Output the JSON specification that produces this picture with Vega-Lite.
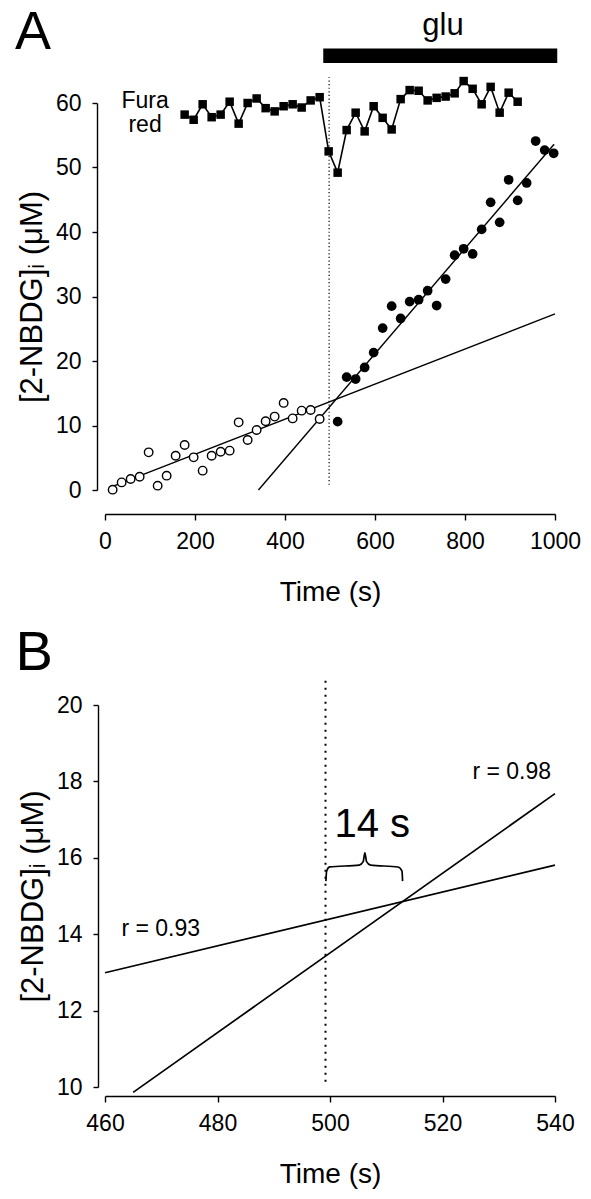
{
  "$schema": "https://vega.github.io/schema/vega-lite/v6.json",
  "padding": {"left": 14, "top": 6, "right": 5, "bottom": 5},
  "background": "white",
  "bounds": "flush",
  "spacing": 215,
  "config": {
    "font": "Liberation Sans",
    "view": {"stroke": null},
    "axis": {
      "domainColor": "black", "tickColor": "black", "labelColor": "black", "titleColor": "black",
      "domainWidth": 1.4, "tickWidth": 1.4, "grid": false,
      "labelFont": "Liberation Sans", "titleFont": "Liberation Sans", "titleFontWeight": "normal",
      "labelFontSize": 23, "titleFontSize": 28, "labelOverlap": false, "labelFlush": false, "format": "d"
    }
  },
  "datasets": {
    "furaA": [
      {"t":177,"v":58.2},{"t":197,"v":57.4},{"t":217,"v":59.8},{"t":237,"v":57.8},{"t":257,"v":58.2},
      {"t":277,"v":60.2},{"t":297,"v":56.8},{"t":317,"v":60.0},{"t":337,"v":60.7},{"t":357,"v":59.2},
      {"t":377,"v":58.7},{"t":397,"v":59.5},{"t":417,"v":59.8},{"t":437,"v":59.3},{"t":457,"v":60.4},
      {"t":477,"v":60.9},{"t":497,"v":52.5},{"t":517,"v":49.2},{"t":537,"v":55.8},{"t":557,"v":58.5},
      {"t":577,"v":55.6},{"t":597,"v":59.5},{"t":617,"v":57.7},{"t":637,"v":55.9},{"t":657,"v":60.6},
      {"t":677,"v":62.0},{"t":697,"v":61.9},{"t":717,"v":60.4},{"t":737,"v":60.8},{"t":757,"v":61.0},
      {"t":777,"v":61.5},{"t":797,"v":63.4},{"t":817,"v":62.2},{"t":837,"v":59.8},{"t":857,"v":62.5},
      {"t":877,"v":58.5},{"t":897,"v":61.6},{"t":917,"v":60.2}
    ],
    "openA": [
      {"t":17,"v":0.05},{"t":37,"v":1.18},{"t":57,"v":1.71},{"t":77,"v":2.06},{"t":97,"v":5.84},
      {"t":117,"v":0.67},{"t":137,"v":2.22},{"t":157,"v":5.32},{"t":177,"v":6.98},{"t":197,"v":5.06},
      {"t":217,"v":3.0},{"t":237,"v":5.32},{"t":257,"v":5.94},{"t":277,"v":6.1},{"t":297,"v":10.49},
      {"t":317,"v":7.76},{"t":337,"v":9.31},{"t":357,"v":10.65},{"t":377,"v":11.38},{"t":397,"v":13.5},
      {"t":417,"v":11.1},{"t":437,"v":12.3},{"t":457,"v":12.4},{"t":477,"v":11.0}
    ],
    "filledA": [
      {"t":517,"v":10.6},{"t":537,"v":17.5},{"t":557,"v":17.2},{"t":577,"v":19.0},{"t":597,"v":21.3},
      {"t":617,"v":25.1},{"t":637,"v":28.5},{"t":657,"v":26.6},{"t":677,"v":29.2},{"t":697,"v":29.5},
      {"t":717,"v":30.9},{"t":737,"v":28.6},{"t":757,"v":32.7},{"t":777,"v":36.4},{"t":797,"v":37.4},
      {"t":817,"v":36.6},{"t":837,"v":40.4},{"t":857,"v":44.6},{"t":877,"v":41.5},{"t":897,"v":48.1},
      {"t":917,"v":44.9},{"t":937,"v":47.6},{"t":957,"v":54.1},{"t":977,"v":52.7},{"t":997,"v":52.2}
    ],
    "fitA": [
      {"fit":"pre","t":17,"v":0.55},{"fit":"pre","t":1000,"v":27.3},
      {"fit":"post","t":341,"v":0},{"fit":"post","t":998,"v":53.6}
    ],
    "gluA": [{"t":485,"t2":1005,"v":66.2,"v2":68.45}],
    "dotA": [{"t":498,"v":0.8,"v2":64}],
    "labelsA": [
      {"key":"panel","text":"A","t":-160,"v":68.33},
      {"key":"glu","text":"glu","t":751,"v":70.5},
      {"key":"fura","text":"Fura\nred","t":89,"v":59.3}
    ],
    "fitB": [
      {"fit":"r93","t":460,"v":12.99},{"fit":"r93","t":540,"v":15.81},
      {"fit":"r98","t":465,"v":9.86},{"fit":"r98","t":540,"v":17.68}
    ],
    "dotB": [{"t":499.2,"v":10.14,"v2":20.65}],
    "braceB": [
      {"i":1,"t":499.27,"v":15.39},{"i":2,"t":499.4,"v":15.65},{"i":3,"t":499.93,"v":15.76},
      {"i":4,"t":505.2,"v":15.81},{"i":5,"t":505.9,"v":15.9},{"i":6,"t":506.2,"v":16.13},
      {"i":7,"t":506.5,"v":15.9},{"i":8,"t":507.2,"v":15.81},{"i":9,"t":512.1,"v":15.76},
      {"i":10,"t":512.8,"v":15.65},{"i":11,"t":512.9,"v":15.39}
    ],
    "labelsB": [
      {"key":"panel","text":"B","t":447.4,"v":20.92},
      {"key":"gap","text":"14 s","t":507.5,"v":16.54},
      {"key":"r","text":"r = 0.98","t":532.3,"v":18.06},
      {"key":"r","text":"r = 0.93","t":469.9,"v":13.94}
    ]
  },
  "vconcat": [
    {
      "width": 450,
      "height": 387,
      "encoding": {
        "x": {"field": "t", "type": "quantitative",
          "scale": {"domain": [0, 1000], "nice": false, "zero": false},
          "axis": {"title": "Time (s)", "offset": 24, "tickSize": 6, "labelPadding": 10, "titlePadding": 25,
                   "values": [0, 200, 400, 600, 800, 1000]}},
        "y": {"field": "v", "type": "quantitative",
          "scale": {"domain": [0, 60], "nice": false, "zero": false},
          "axis": {"title": "[2-NBDG]ᵢ (μM)", "offset": 8, "tickSize": 5, "labelPadding": 11, "titlePadding": 7,
                   "titleFontSize": 31, "values": [0, 10, 20, 30, 40, 50, 60]}}
      },
      "layer": [
        {"data": {"name": "gluA"}, "mark": {"type": "rect", "color": "black"},
         "encoding": {"x2": {"field": "t2"}, "y2": {"field": "v2"}}},
        {"data": {"name": "dotA"}, "mark": {"type": "rule", "color": "black", "strokeWidth": 1.2, "strokeDash": [1.2, 2.4]},
         "encoding": {"y2": {"field": "v2"}}},
        {"data": {"name": "fitA"}, "mark": {"type": "line", "color": "black", "strokeWidth": 1.4},
         "encoding": {"detail": {"field": "fit"}}},
        {"data": {"name": "furaA"}, "mark": {"type": "line", "color": "black", "strokeWidth": 1.6}},
        {"data": {"name": "furaA"}, "mark": {"type": "point", "shape": "square", "filled": true, "color": "black", "opacity": 1, "size": 72}},
        {"data": {"name": "openA"}, "mark": {"type": "point", "shape": "circle", "filled": true, "fill": "white", "stroke": "black", "strokeWidth": 1.4, "opacity": 1, "size": 72}},
        {"data": {"name": "filledA"}, "mark": {"type": "point", "shape": "circle", "filled": true, "color": "black", "opacity": 1, "size": 95}},
        {"data": {"name": "labelsA"}, "transform": [{"filter": "datum.key === 'panel'"}],
         "mark": {"type": "text", "fontSize": 54, "align": "center", "baseline": "alphabetic", "color": "black"},
         "encoding": {"text": {"field": "text"}}},
        {"data": {"name": "labelsA"}, "transform": [{"filter": "datum.key === 'glu'"}],
         "mark": {"type": "text", "fontSize": 31, "align": "center", "baseline": "alphabetic", "color": "black"},
         "encoding": {"text": {"field": "text"}}},
        {"data": {"name": "labelsA"}, "transform": [{"filter": "datum.key === 'fura'"}],
         "mark": {"type": "text", "fontSize": 23, "align": "center", "baseline": "alphabetic", "lineBreak": "\n", "lineHeight": 24, "color": "black"},
         "encoding": {"text": {"field": "text"}}}
      ]
    },
    {
      "width": 450,
      "height": 382,
      "encoding": {
        "x": {"field": "t", "type": "quantitative",
          "scale": {"domain": [460, 540], "nice": false, "zero": false},
          "axis": {"title": "Time (s)", "offset": 9, "tickSize": 6, "labelPadding": 10, "titlePadding": 25,
                   "values": [460, 480, 500, 520, 540]}},
        "y": {"field": "v", "type": "quantitative",
          "scale": {"domain": [10, 20], "nice": false, "zero": false},
          "axis": {"title": "[2-NBDG]ᵢ (μM)", "offset": 7, "tickSize": 5, "labelPadding": 11, "titlePadding": 7,
                   "titleFontSize": 31, "values": [10, 12, 14, 16, 18, 20]}}
      },
      "layer": [
        {"data": {"name": "dotB"}, "mark": {"type": "rule", "color": "black", "strokeWidth": 2, "strokeDash": [2, 5]},
         "encoding": {"y2": {"field": "v2"}}},
        {"data": {"name": "fitB"}, "mark": {"type": "line", "color": "black", "strokeWidth": 1.7},
         "encoding": {"detail": {"field": "fit"}}},
        {"data": {"name": "braceB"}, "mark": {"type": "line", "color": "black", "strokeWidth": 1.7, "interpolate": "monotone"},
         "encoding": {"order": {"field": "i"}}},
        {"data": {"name": "labelsB"}, "transform": [{"filter": "datum.key === 'panel'"}],
         "mark": {"type": "text", "fontSize": 56, "align": "center", "baseline": "alphabetic", "color": "black"},
         "encoding": {"text": {"field": "text"}}},
        {"data": {"name": "labelsB"}, "transform": [{"filter": "datum.key === 'gap'"}],
         "mark": {"type": "text", "fontSize": 40, "align": "center", "baseline": "alphabetic", "color": "black"},
         "encoding": {"text": {"field": "text"}}},
        {"data": {"name": "labelsB"}, "transform": [{"filter": "datum.key === 'r'"}],
         "mark": {"type": "text", "fontSize": 23, "align": "center", "baseline": "alphabetic", "color": "black"},
         "encoding": {"text": {"field": "text"}}}
      ]
    }
  ]
}
